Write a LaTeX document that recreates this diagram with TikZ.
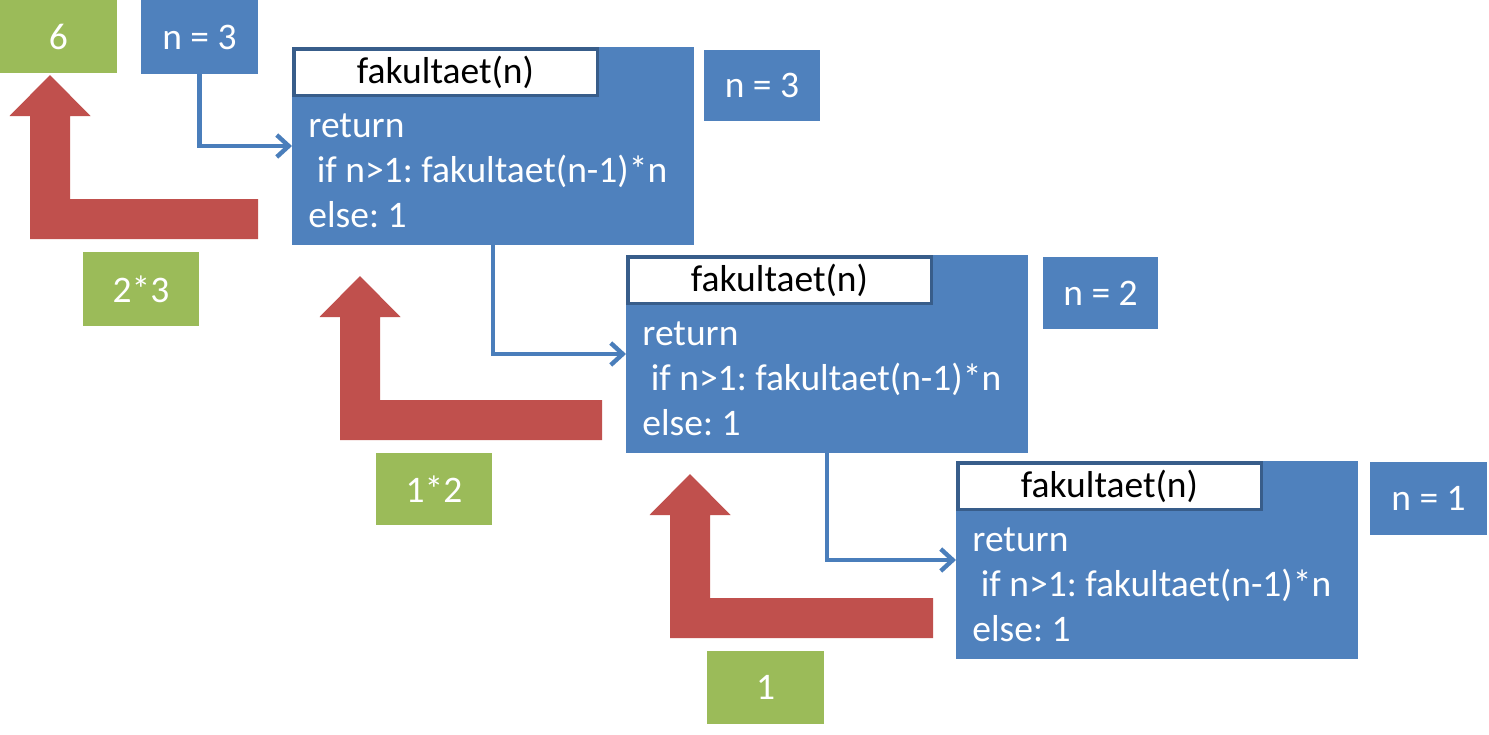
\documentclass[tikz,border=0pt]{standalone}
\usepackage{fontspec}
\setmainfont{Carlito}
\frenchspacing
\usetikzlibrary{arrows.meta}
\definecolor{myblue}{HTML}{4F81BD}
\definecolor{mygreen}{HTML}{9BBB59}
\definecolor{myred}{HTML}{C0504D}
\definecolor{mydark}{HTML}{385D8A}
\definecolor{connblue}{HTML}{4A7EBB}
\tikzset{
  txt/.style={font=\fontsize{18.75pt}{22.5pt}\selectfont},
  plainbox/.style={txt, inner sep=0pt, outer sep=0pt, draw=none, text=white},
  bluebox/.style={plainbox, fill=myblue},
  greenbox/.style={plainbox, fill=mygreen},
  titlebox/.style={txt, inner sep=0pt, outer sep=0pt, fill=white, draw=mydark, line width=1.75pt, text=black,
    minimum width=151.75pt, minimum height=23.25pt},
  funcbody/.style={inner sep=0pt, outer sep=0pt, fill=myblue, minimum width=201pt, minimum height=99pt},
  codeline/.style={txt, text=white, inner sep=0pt, anchor=base west},
  conn/.style={draw=connblue, line width=2.2pt, -{Straight Barb[length=6pt,width=11pt]}},
  redarrow/.style={fill=myred, draw=none}
}
\newcommand\funcblock[3]{%
  \begin{scope}[shift={(#2,#3)}]
    \node[funcbody] (#1) at (201,99) {};
    \node[titlebox] (#1t) at (153.5,25) {fakultaet(n)};
    \node[codeline] (#1r) at (16,90) {return};
    \node[codeline] (#1i) at (16,135) {\ if n>1: fakultaet(n-1)*n};
    \node[codeline] (#1e) at (16,180) {else: 1};
  \end{scope}}
\newcommand\redL[3]{%
  \begin{scope}[shift={(#1,#2)}]
    \fill[redarrow] (0,0) -- (40.5,41) -- (20,41) -- (20,124) -- (#3,124) -- (#3,164)
      -- (-20,164) -- (-20,41) -- (-40.5,41) -- cycle;
  \end{scope}}
\begin{document}
\begin{tikzpicture}[x=0.5pt,y=-0.5pt]
  \fill[white] (0,0) rectangle (1489,734);
  \useasboundingbox (0,0) rectangle (1489,734);

  % red return arrows
  \redL{50}{75}{208}
  \redL{360}{276}{242}
  \redL{690}{474}{243}

  % result boxes
  \node[greenbox, minimum width=58.5pt, minimum height=36.5pt] (g6) at (58.5,36.5) {6};
  \node[greenbox, minimum width=58pt, minimum height=37pt] (g23) at (141,289) {2*3};
  \node[greenbox, minimum width=58pt, minimum height=36pt] (g12) at (434,489) {1*2};
  \node[greenbox, minimum width=58.5pt, minimum height=36.5pt] (g1) at (765.5,687.5) {1};

  % parameter boxes
  \node[bluebox, minimum width=58.5pt, minimum height=37pt] (nA) at (199.5,37) {n = 3};
  \node[bluebox, minimum width=58pt, minimum height=35.5pt] (n3) at (762,85.5) {n = 3};
  \node[bluebox, minimum width=57.5pt, minimum height=36pt] (n2) at (1100.5,293) {n = 2};
  \node[bluebox, minimum width=58.5pt, minimum height=36.5pt] (n1) at (1428.5,498.5) {n = 1};

  % function boxes
  \funcblock{fa}{292}{47}
  \funcblock{fb}{626}{255}
  \funcblock{fc}{956}{461}

  % call connectors
  \draw[conn] (nA.south) |- (fa.west);
  \draw[conn] (fa.south) |- (fb.west);
  \draw[conn] (fb.south) |- (fc.west);
\end{tikzpicture}
\end{document}
